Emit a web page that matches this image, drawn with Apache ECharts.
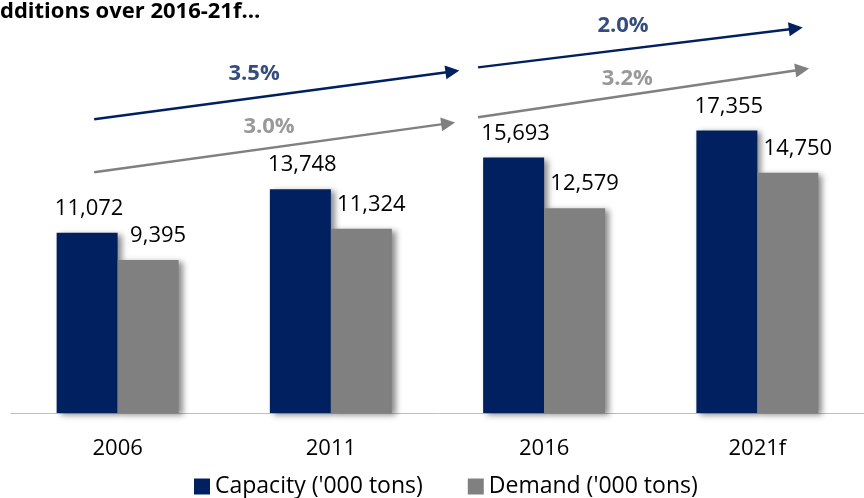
<!DOCTYPE html>
<html>
<head>
<meta charset="utf-8">
<script src="https://cdn.jsdelivr.net/npm/echarts@6/dist/echarts.min.js"></script>
<style>
  html, body { margin: 0; padding: 0; background: #fff; }
  #main { width: 864px; height: 498px; }
</style>
</head>
<body>
<div id="main"></div>
<script>
// chart data
const years = ['2006', '2011', '2016', '2021f'];
const capacity = [11072, 13748, 15693, 17355];
const demand = [9395, 11324, 12579, 14750];

// CAGR arrows, in [category position, value] units
const capArrows = [
  [[0.39, 18040], [2.07, 20980]],
  [[2.19, 21230], [3.68, 23620]]
];
const demArrows = [
  [[0.39, 14790], [2.05, 17790]],
  [[2.19, 18160], [3.71, 21100]]
];
const capRates = [{ value: [1.14, 20860], name: '3.5%' }, { value: [2.87, 23800], name: '2.0%' }];
const demRates = [{ value: [1.21, 17610], name: '3.0%' }, { value: [2.89, 20550], name: '3.2%' }];

const NAVY = '#002060';
const GREY = '#808080';
const FONT = 'Open Sans';

const chart = echarts.init(document.getElementById('main'));

function barLabel(dx) {
  return {
    show: true,
    position: 'top',
    distance: 13,
    offset: [dx, 0],
    color: '#000',
    fontFamily: FONT,
    fontSize: 22,
    formatter: p => p.value.toLocaleString('en-US')
  };
}
const shadow = {
  shadowColor: 'rgba(0,0,0,0.45)',
  shadowBlur: 6,
  shadowOffsetX: 4,
  shadowOffsetY: 2
};

const option = {
  animation: false,
  graphic: [{
    type: 'text',
    left: 0,
    top: 1,
    style: {
      text: 'dditions over 2016-21f\u2026',
      fontFamily: FONT,
      fontWeight: 'bold',
      fontSize: 22,
      fill: '#000'
    }
  }],
  grid: { left: 11, right: -1, top: 6, bottom: 85 },
  legend: {
    left: 189,
    bottom: -5,
    itemWidth: 16,
    itemHeight: 16,
    itemGap: 45,
    icon: 'rect',
    textStyle: { fontFamily: FONT, fontSize: 23, color: '#000' },
    data: ["Capacity ('000 tons)", "Demand ('000 tons)"]
  },
  xAxis: [{
    type: 'category',
    data: years,
    axisLine: { lineStyle: { color: '#bfbfbf', width: 1 } },
    axisTick: { length: 8, lineStyle: { color: '#bfbfbf' } },
    axisLabel: { margin: 25, color: '#000', fontFamily: FONT, fontSize: 22 }
  }, {
    type: 'value',
    min: 0,
    max: 4,
    show: false
  }],
  yAxis: {
    type: 'value',
    min: 0,
    max: 25000,
    show: false,
    splitLine: { show: false }
  },
  series: [{
    name: "Capacity ('000 tons)",
    type: 'bar',
    data: capacity,
    barWidth: 61,
    barGap: '0%',
    itemStyle: Object.assign({ color: NAVY }, shadow),
    label: barLabel(2)
  }, {
    name: "Demand ('000 tons)",
    type: 'bar',
    data: demand,
    barWidth: 61,
    barGap: '0%',
    itemStyle: Object.assign({ color: GREY }, shadow),
    label: barLabel(10)
  }, {
    type: 'lines',
    coordinateSystem: 'cartesian2d',
    xAxisIndex: 1,
    yAxisIndex: 0,
    symbol: ['none', 'triangle'],
    symbolSize: [16, 14],
    lineStyle: { color: NAVY, width: 2.5, opacity: 1 },
    data: capArrows.map(c => ({ coords: c })),
    z: 5
  }, {
    type: 'lines',
    coordinateSystem: 'cartesian2d',
    xAxisIndex: 1,
    yAxisIndex: 0,
    symbol: ['none', 'triangle'],
    symbolSize: [16, 14],
    lineStyle: { color: GREY, width: 2.5, opacity: 1 },
    data: demArrows.map(c => ({ coords: c })),
    z: 5
  }, {
    type: 'scatter',
    xAxisIndex: 1,
    yAxisIndex: 0,
    symbolSize: 0,
    data: capRates,
    label: { show: true, position: 'inside', formatter: '{b}', color: NAVY, fontFamily: FONT, fontWeight: 'bold', fontSize: 22 },
    z: 6
  }, {
    type: 'scatter',
    xAxisIndex: 1,
    yAxisIndex: 0,
    symbolSize: 0,
    data: demRates,
    label: { show: true, position: 'inside', formatter: '{b}', color: GREY, fontFamily: FONT, fontWeight: 'bold', fontSize: 22 },
    z: 6
  }]
};

chart.setOption(option);
</script>
</body>
</html>
